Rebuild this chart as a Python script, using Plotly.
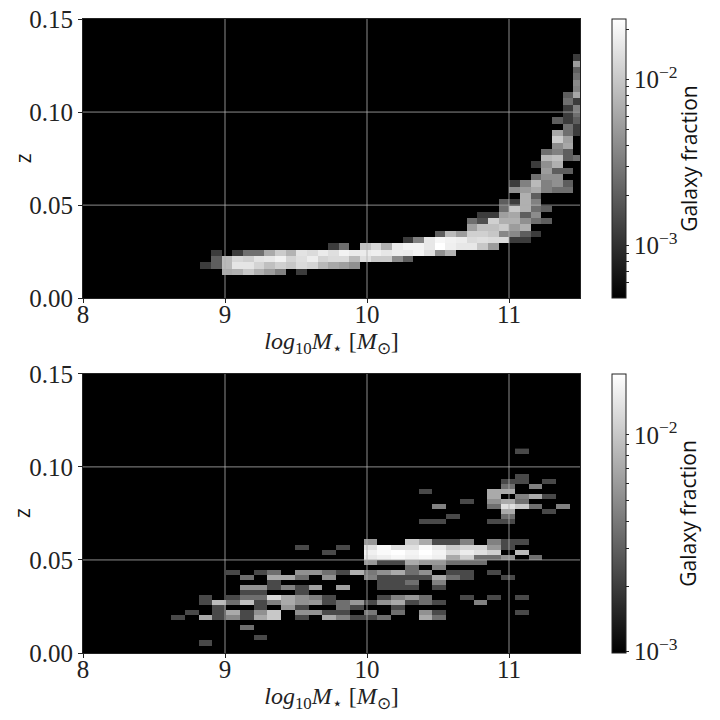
import math
import plotly.graph_objects as go

# Galaxy fraction per bin, in units of 1e-4: {row: {column: value}}
top_cells = {
 3: {13:63,14:69,15:99,16:69,17:51,18:34,20:12},
 4: {11:12,12:20,13:81,14:155,15:155,16:119,17:88,18:112,19:99,20:134,21:119,22:78,23:61,24:54,25:43},
 5: {12:20,13:81,14:126,15:112,16:151,17:160,18:186,19:119,20:142,21:175,22:119,23:134,24:134,25:81,26:142,27:105,28:105,29:40,30:20},
 6: {12:12,14:12,15:26,16:26,17:63,18:105,19:73,20:151,21:134,22:170,23:142,24:191,25:170,26:170,27:180,28:160,29:175,30:170,31:191,32:142,33:43,34:73},
 7: {23:12,24:26,26:88,27:126,28:69,29:170,30:191,31:191,32:160,33:230,34:180,35:160,36:160,37:99,38:51},
 8: {30:12,31:34,32:160,33:203,34:186,35:175,36:134,37:142,38:134,39:134,40:12,41:12},
 9: {33:20,34:81,35:51,36:112,37:112,38:99,39:38,40:38,41:20,42:12},
 10: {36:54,37:88,38:88,39:105,40:51,41:69},
 11: {36:26,37:16,38:112,39:69,40:69,41:43,42:26,43:20},
 12: {37:12,38:12,39:54,40:61,41:20,42:40},
 13: {39:26,40:99,41:69,42:26,43:20},
 14: {39:20,40:12,41:69,42:34},
 15: {41:69,42:20},
 16: {40:43,41:51,42:63,43:34,44:26,45:26},
 17: {40:12,41:34,42:81,43:34,44:43,45:20},
 18: {42:26,43:43,44:43},
 19: {43:51,44:20,45:20},
 20: {42:12,43:43,44:69},
 21: {43:78,44:88,45:20,46:26},
 22: {43:26,44:34,45:20},
 23: {44:40,45:61},
 24: {44:105,45:54},
 25: {44:61,45:26,46:12},
 26: {45:26,46:12},
 27: {44:20,45:12,46:20},
 28: {45:12,46:26},
 29: {45:12,46:34},
 30: {45:26,46:12},
 31: {45:20,46:61},
 32: {46:34},
 33: {46:38},
 34: {46:26},
 35: {46:20},
 36: {46:51},
 37: {46:12},
}

bottom_cells = {
 1: {8:23},
 2: {12:23},
 4: {11:36},
 6: {6:23,8:70,9:23,10:48,11:23,12:70,13:101,15:23,17:70,18:44,19:23,20:23,21:36,24:71,25:36},
 7: {7:23,9:23,10:71,11:23,12:53,13:101,15:53,16:53,17:23,18:23,20:40,22:36,24:53,25:23,31:23},
 8: {9:23,12:23,14:58,15:23,18:36,19:23,22:23},
 9: {8:23,9:87,10:36,11:92,12:23,13:44,14:71,15:53,16:58,17:23,18:36,19:58,20:23,21:53,22:71,23:23,24:36,25:23,28:44},
 10: {8:23,10:23,11:36,12:36,13:121,14:71,15:53,16:44,17:23,21:23,22:44,23:58,24:36,27:23,29:23,31:23},
 11: {11:23,12:23,15:23},
 12: {11:53,12:53,13:23,14:44,15:23,16:63,18:63,21:23,22:23,23:23,25:23},
 13: {13:23,21:23,22:23,23:36,25:44},
 14: {11:36,13:70,14:70,15:36,17:53,20:44,21:23,22:23,23:23,24:23,25:71,26:36,27:23,30:23},
 15: {10:23,12:23,13:36,15:53,16:53,17:36,18:23,19:76,20:40,21:53,22:71,23:36,24:53,26:23,27:23,29:23},
 16: {23:36,25:44},
 17: {20:58,21:23,22:23,23:71,24:58,25:58,26:36,27:36,28:36},
 18: {20:146,21:160,22:176,23:160,24:176,25:160,26:70,27:111,28:36,29:36,30:53,32:36},
 19: {17:23,20:160,21:180,22:191,23:168,24:191,25:168,26:127,27:153,28:133,29:111,31:87},
 20: {15:23,18:23,20:133,21:180,22:133,23:133,24:180,25:146,26:101,27:116,28:116,29:58,30:23},
 21: {20:58,23:106,24:71,25:23,26:23,27:44,29:44,30:23,31:23},
 25: {24:23,25:23,29:23,30:23},
 26: {26:23,30:36},
 27: {30:71,33:23},
 28: {25:44,29:36,30:133,31:101,32:36,34:44},
 29: {27:23,29:53,30:71,31:36},
 30: {29:71,31:44,32:71,33:23},
 31: {24:23,29:71,30:71},
 32: {30:36,32:44},
 33: {30:23,31:23,33:23},
 34: {31:23},
 39: {31:23},
}

# bin layout of each 2-D histogram
top_x0, top_dx, top_nx = 8.0, 0.075, 47
top_y0, top_dy, top_ny = 0.0024, 0.003385, 40
bot_x0, bot_dx, bot_nx = 8.04, 0.0968, 36
bot_y0, bot_dy, bot_ny = 0.00103, 0.00272, 40

top_range = (4.83e-4, 0.023)
bot_range = (9.86e-4, 0.0191)

x_ticks = [8, 9, 10, 11]
y_ticks = [0.0, 0.05, 0.10, 0.15]
y_tick_labels = ["0.00", "0.05", "0.10", "0.15"]
x_grid = [9, 10, 11]
y_grid = [0.05, 0.10]

top_minor = [6e-4, 7e-4, 8e-4, 9e-4, 2e-3, 3e-3, 4e-3, 5e-3, 6e-3, 7e-3, 8e-3, 9e-3, 2e-2]
bot_minor = [2e-3, 3e-3, 4e-3, 5e-3, 6e-3, 7e-3, 8e-3, 9e-3]
top_major = {1e-3: "10<sup>−3</sup>", 1e-2: "10<sup>−2</sup>"}
bot_major = {1e-3: "10<sup>−3</sup>", 1e-2: "10<sup>−2</sup>"}

SERIF = "Liberation Serif"
SANS = "Open Sans"
W = H = 720
AX_L, AX_R = 82.5, 580.5
TOP_T, TOP_B = 19.0, 298.3
BOT_T, BOT_B = 374.0, 653.3
PLOT_H = BOT_B - TOP_T
PLOT_W = AX_R - AX_L


def grid_matrix(cells, nx, ny):
    z = [[None] * nx for _ in range(ny)]
    for r, row in cells.items():
        for c, v in row.items():
            z[r][c] = math.log10(v * 1e-4)
    return z


def edges(x0, dx, n):
    return [x0 + dx * i for i in range(n + 1)]


def heat(cells, x0, dx, nx, y0, dy, ny, rng, major, minor, sub, t_px, b_px):
    vals = list(major) + minor
    text = [major.get(v, "") for v in vals]
    return go.Heatmap(
        z=grid_matrix(cells, nx, ny), x=edges(x0, dx, nx), y=edges(y0, dy, ny),
        zmin=math.log10(rng[0]), zmax=math.log10(rng[1]),
        colorscale=[[0, "#000000"], [1, "#ffffff"]], hoverongaps=False,
        xaxis="x" + sub, yaxis="y" + sub,
        colorbar=dict(
            x=(612.5 - AX_L) / PLOT_W, xanchor="left", xpad=0, ypad=0,
            y=(BOT_B - b_px) / PLOT_H, yanchor="bottom",
            len=(b_px - t_px) / PLOT_H, lenmode="fraction",
            thickness=14, outlinewidth=1, outlinecolor="#222222",
            tickmode="array", tickvals=[math.log10(v) for v in vals], ticktext=text,
            ticks="outside", ticklen=3, tickwidth=1, tickcolor="#222222",
            tickfont=dict(family=SERIF, size=25, color="#222222"),
        ),
    )


def grid_traces(sub):
    tr = []
    for gx in x_grid:
        tr.append(go.Scatter(x=[gx, gx], y=[y_ticks[0], y_ticks[-1]], mode="lines",
                             line=dict(color="#b0b0b0", width=0.8), hoverinfo="skip",
                             showlegend=False, xaxis="x" + sub, yaxis="y" + sub))
    for gy in y_grid:
        tr.append(go.Scatter(x=[8, 11.5], y=[gy, gy], mode="lines",
                             line=dict(color="#b0b0b0", width=0.8), hoverinfo="skip",
                             showlegend=False, xaxis="x" + sub, yaxis="y" + sub))
    return tr


def side_label(text, x_px, t_px, b_px):
    return dict(text=text, textangle=-90, showarrow=False,
                xref="paper", yref="paper", xanchor="center", yanchor="middle",
                x=(x_px - AX_L) / PLOT_W,
                y=(BOT_B - (t_px + b_px) / 2) / PLOT_H,
                font=dict(family=SANS, size=21, color="#111111"))


fig = go.Figure()
fig.add_trace(heat(top_cells, top_x0, top_dx, top_nx, top_y0, top_dy, top_ny,
                   top_range, top_major, top_minor, "", TOP_T, TOP_B))
for t in grid_traces(""):
    fig.add_trace(t)
fig.add_trace(heat(bottom_cells, bot_x0, bot_dx, bot_nx, bot_y0, bot_dy, bot_ny,
                   bot_range, bot_major, bot_minor, "2", BOT_T, BOT_B))
for t in grid_traces("2"):
    fig.add_trace(t)

x_title = "<i>log</i><sub>10</sub><i>M</i><sub>⋆</sub> [<i>M</i><sub>⊙</sub>]"


def xaxis(anchor):
    return dict(domain=[0, 1], range=[8, 11.5], anchor=anchor, automargin=False,
                tickmode="array", tickvals=x_ticks, ticktext=[str(v) for v in x_ticks],
                ticks="outside", ticklen=4, tickwidth=1, tickcolor="#222222",
                ticklabelstandoff=-10,
                showgrid=False, zeroline=False, showline=True, linecolor="#222222",
                linewidth=1, mirror=True, layer="above traces",
                tickfont=dict(family=SERIF, size=25, color="#222222"),
                title=dict(text=x_title, standoff=0,
                           font=dict(family=SERIF, size=24, color="#222222")))


def yaxis(anchor, t_px, b_px):
    return dict(domain=[(BOT_B - b_px) / PLOT_H, (BOT_B - t_px) / PLOT_H],
                range=[0, 0.15], anchor=anchor, automargin=False,
                tickmode="array", tickvals=y_ticks, ticktext=y_tick_labels,
                ticks="outside", ticklen=4, tickwidth=1, tickcolor="#222222",
                showgrid=False, zeroline=False, showline=True, linecolor="#222222",
                linewidth=1, mirror=True, layer="above traces",
                tickfont=dict(family=SERIF, size=25, color="#222222"))


fig.update_layout(
    width=W, height=H, autosize=False, showlegend=False,
    margin=dict(l=AX_L, r=W - AX_R, t=TOP_T, b=H - BOT_B, pad=0, autoexpand=False),
    paper_bgcolor="white", plot_bgcolor="black",
    xaxis=xaxis("y"), yaxis=yaxis("x", TOP_T, TOP_B),
    xaxis2=xaxis("y2"), yaxis2=yaxis("x2", BOT_T, BOT_B),
    annotations=[
        side_label("z", 22, TOP_T, TOP_B),
        side_label("z", 22, BOT_T, BOT_B),
        side_label("Galaxy fraction", 689, TOP_T, TOP_B),
        side_label("Galaxy fraction", 689, BOT_T, BOT_B),
    ],
)

fig.write_html("out.html", post_script="document.body.style.margin='0';",
               config=dict(displayModeBar=False))
